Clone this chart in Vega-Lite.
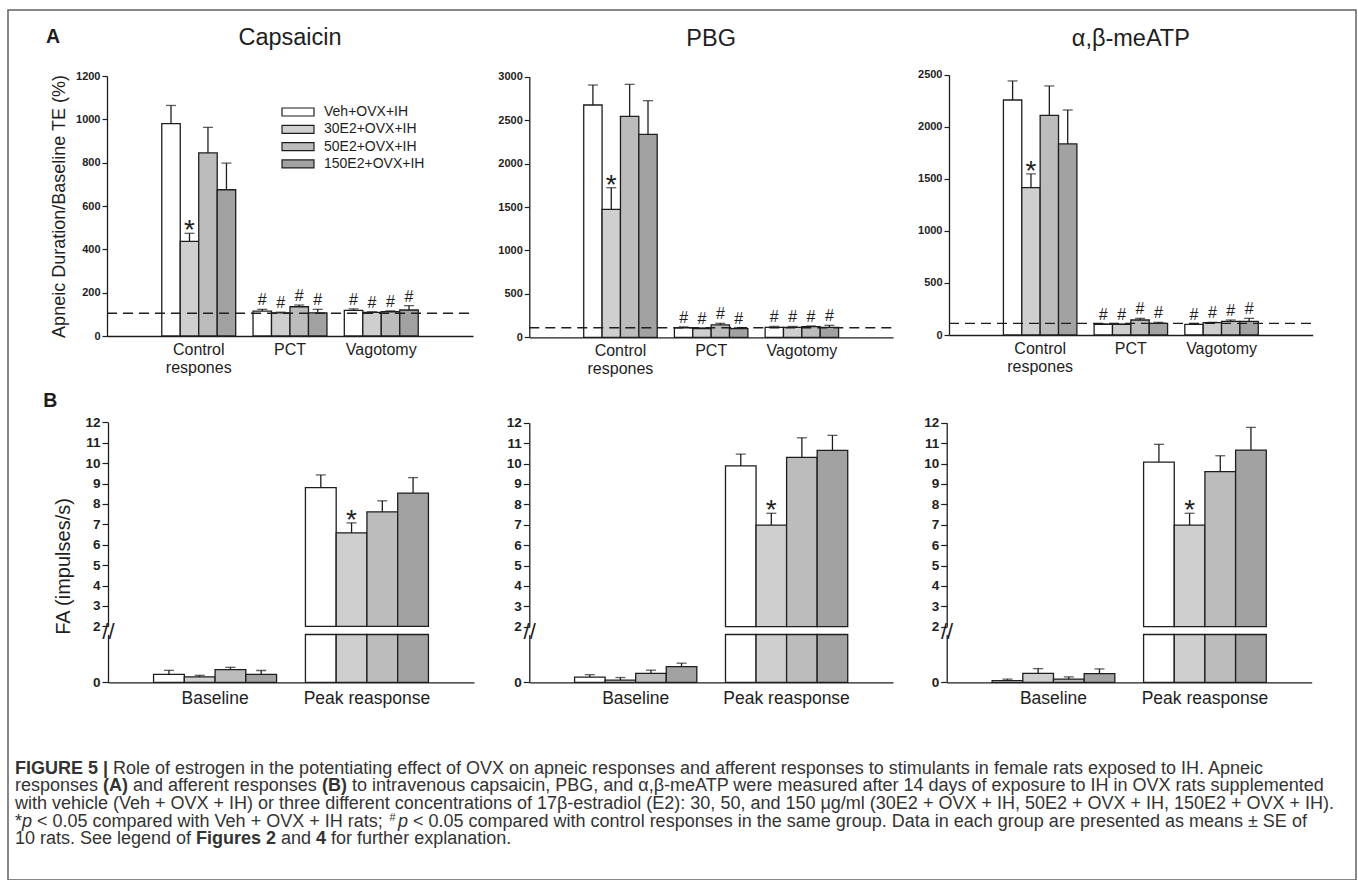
{
  "$schema": "https://vega.github.io/schema/vega-lite/v6.json",
  "width": 1348,
  "height": 870,
  "autosize": {"type": "none"},
  "padding": {"left": 8, "top": 10, "right": 2, "bottom": 0},
  "config": {
    "view": {"stroke": "#626262", "strokeWidth": 1.5},
    "font": "Liberation Sans",
    "text": {"font": "Liberation Sans", "color": "#1e1e1e"},
    "axis": {"grid": false, "domainColor": "#1e1e1e", "domainWidth": 1.3, "tickColor": "#1e1e1e", "tickWidth": 1.2, "labelColor": "#1e1e1e", "titleColor": "#1e1e1e", "labelFont": "Liberation Sans", "titleFont": "Liberation Sans", "titleFontWeight": "normal"}
  },
  "datasets": {
    "a1": [
      {"g": "Control respones", "t": "Veh+OVX+IH", "m": 980, "u": 1064, "s": ""},
      {"g": "Control respones", "t": "30E2+OVX+IH", "m": 437, "u": 474, "s": "*"},
      {"g": "Control respones", "t": "50E2+OVX+IH", "m": 845, "u": 963, "s": ""},
      {"g": "Control respones", "t": "150E2+OVX+IH", "m": 675, "u": 798, "s": ""},
      {"g": "PCT", "t": "Veh+OVX+IH", "m": 115, "u": 123, "s": "#"},
      {"g": "PCT", "t": "30E2+OVX+IH", "m": 107, "u": 110, "s": "#"},
      {"g": "PCT", "t": "50E2+OVX+IH", "m": 135, "u": 143, "s": "#"},
      {"g": "PCT", "t": "150E2+OVX+IH", "m": 107, "u": 123, "s": "#"},
      {"g": "Vagotomy", "t": "Veh+OVX+IH", "m": 118, "u": 125, "s": "#"},
      {"g": "Vagotomy", "t": "30E2+OVX+IH", "m": 109, "u": 112, "s": "#"},
      {"g": "Vagotomy", "t": "50E2+OVX+IH", "m": 112, "u": 116, "s": "#"},
      {"g": "Vagotomy", "t": "150E2+OVX+IH", "m": 120, "u": 140, "s": "#"}
    ],
    "a2": [
      {"g": "Control respones", "t": "Veh+OVX+IH", "m": 2674, "u": 2904, "s": ""},
      {"g": "Control respones", "t": "30E2+OVX+IH", "m": 1473, "u": 1722, "s": "*"},
      {"g": "Control respones", "t": "50E2+OVX+IH", "m": 2544, "u": 2912, "s": ""},
      {"g": "Control respones", "t": "150E2+OVX+IH", "m": 2337, "u": 2724, "s": ""},
      {"g": "PCT", "t": "Veh+OVX+IH", "m": 110, "u": 120, "s": "#"},
      {"g": "PCT", "t": "30E2+OVX+IH", "m": 100, "u": 110, "s": "#"},
      {"g": "PCT", "t": "50E2+OVX+IH", "m": 142, "u": 161, "s": "#"},
      {"g": "PCT", "t": "150E2+OVX+IH", "m": 101, "u": 112, "s": "#"},
      {"g": "Vagotomy", "t": "Veh+OVX+IH", "m": 115, "u": 125, "s": "#"},
      {"g": "Vagotomy", "t": "30E2+OVX+IH", "m": 115, "u": 125, "s": "#"},
      {"g": "Vagotomy", "t": "50E2+OVX+IH", "m": 123, "u": 130, "s": "#"},
      {"g": "Vagotomy", "t": "150E2+OVX+IH", "m": 115, "u": 138, "s": "#"}
    ],
    "a3": [
      {"g": "Control respones", "t": "Veh+OVX+IH", "m": 2257, "u": 2440, "s": ""},
      {"g": "Control respones", "t": "30E2+OVX+IH", "m": 1415, "u": 1547, "s": "*"},
      {"g": "Control respones", "t": "50E2+OVX+IH", "m": 2110, "u": 2392, "s": ""},
      {"g": "Control respones", "t": "150E2+OVX+IH", "m": 1835, "u": 2161, "s": ""},
      {"g": "PCT", "t": "Veh+OVX+IH", "m": 103, "u": 108, "s": "#"},
      {"g": "PCT", "t": "30E2+OVX+IH", "m": 103, "u": 106, "s": "#"},
      {"g": "PCT", "t": "50E2+OVX+IH", "m": 144, "u": 160, "s": "#"},
      {"g": "PCT", "t": "150E2+OVX+IH", "m": 112, "u": 122, "s": "#"},
      {"g": "Vagotomy", "t": "Veh+OVX+IH", "m": 103, "u": 108, "s": "#"},
      {"g": "Vagotomy", "t": "30E2+OVX+IH", "m": 118, "u": 122, "s": "#"},
      {"g": "Vagotomy", "t": "50E2+OVX+IH", "m": 131, "u": 144, "s": "#"},
      {"g": "Vagotomy", "t": "150E2+OVX+IH", "m": 131, "u": 160, "s": "#"}
    ],
    "b1": [
      {"g": "Baseline", "t": "Veh+OVX+IH", "m": 0.25, "u": 0.375, "s": ""},
      {"g": "Baseline", "t": "30E2+OVX+IH", "m": 0.17, "u": 0.22, "s": ""},
      {"g": "Baseline", "t": "50E2+OVX+IH", "m": 0.4, "u": 0.47, "s": ""},
      {"g": "Baseline", "t": "150E2+OVX+IH", "m": 0.25, "u": 0.37, "s": ""},
      {"g": "Peak reasponse", "t": "Veh+OVX+IH", "m": 8.8, "u": 9.42, "s": ""},
      {"g": "Peak reasponse", "t": "30E2+OVX+IH", "m": 6.58, "u": 7.07, "s": "*"},
      {"g": "Peak reasponse", "t": "50E2+OVX+IH", "m": 7.61, "u": 8.15, "s": ""},
      {"g": "Peak reasponse", "t": "150E2+OVX+IH", "m": 8.53, "u": 9.29, "s": ""}
    ],
    "b2": [
      {"g": "Baseline", "t": "Veh+OVX+IH", "m": 0.16, "u": 0.24, "s": ""},
      {"g": "Baseline", "t": "30E2+OVX+IH", "m": 0.07, "u": 0.15, "s": ""},
      {"g": "Baseline", "t": "50E2+OVX+IH", "m": 0.28, "u": 0.38, "s": ""},
      {"g": "Baseline", "t": "150E2+OVX+IH", "m": 0.49, "u": 0.6, "s": ""},
      {"g": "Peak reasponse", "t": "Veh+OVX+IH", "m": 9.88, "u": 10.46, "s": ""},
      {"g": "Peak reasponse", "t": "30E2+OVX+IH", "m": 6.98, "u": 7.56, "s": "*"},
      {"g": "Peak reasponse", "t": "50E2+OVX+IH", "m": 10.3, "u": 11.26, "s": ""},
      {"g": "Peak reasponse", "t": "150E2+OVX+IH", "m": 10.64, "u": 11.38, "s": ""}
    ],
    "b3": [
      {"g": "Baseline", "t": "Veh+OVX+IH", "m": 0.05, "u": 0.1, "s": ""},
      {"g": "Baseline", "t": "30E2+OVX+IH", "m": 0.28, "u": 0.43, "s": ""},
      {"g": "Baseline", "t": "50E2+OVX+IH", "m": 0.1, "u": 0.17, "s": ""},
      {"g": "Baseline", "t": "150E2+OVX+IH", "m": 0.27, "u": 0.42, "s": ""},
      {"g": "Peak reasponse", "t": "Veh+OVX+IH", "m": 10.07, "u": 10.94, "s": ""},
      {"g": "Peak reasponse", "t": "30E2+OVX+IH", "m": 6.98, "u": 7.56, "s": "*"},
      {"g": "Peak reasponse", "t": "50E2+OVX+IH", "m": 9.6, "u": 10.38, "s": ""},
      {"g": "Peak reasponse", "t": "150E2+OVX+IH", "m": 10.66, "u": 11.77, "s": ""}
    ],
    "cap": [
      {"line": 1, "part": "l1a", "text": "FIGURE 5 |"},
      {"line": 1, "part": "l1b", "text": "Role of estrogen in the potentiating effect of OVX on apneic responses and afferent responses to stimulants in female rats exposed to IH. Apneic"},
      {"line": 2, "part": "l2a", "text": "responses"},
      {"line": 2, "part": "l2b", "text": "(A)"},
      {"line": 2, "part": "l2c", "text": "and afferent responses"},
      {"line": 2, "part": "l2d", "text": "(B)"},
      {"line": 2, "part": "l2e", "text": "to intravenous capsaicin, PBG, and α,β-meATP were measured after 14 days of exposure to IH in OVX rats supplemented"},
      {"line": 3, "part": "n", "text": "with vehicle (Veh + OVX + IH) or three different concentrations of 17β-estradiol (E2): 30, 50, and 150 μg/ml (30E2 + OVX + IH, 50E2 + OVX + IH, 150E2 + OVX + IH)."},
      {"line": 4, "part": "l4a", "text": "*"},
      {"line": 4, "part": "l4b", "text": "p"},
      {"line": 4, "part": "l4c", "text": "< 0.05 compared with Veh + OVX + IH rats;"},
      {"line": 4, "part": "l4d", "text": "#"},
      {"line": 4, "part": "l4e", "text": "p"},
      {"line": 4, "part": "l4f", "text": "< 0.05 compared with control responses in the same group. Data in each group are presented as means ± SE of"},
      {"line": 5, "part": "l5a", "text": "10 rats. See legend of"},
      {"line": 5, "part": "l5b", "text": "Figures 2"},
      {"line": 5, "part": "l5c", "text": "and"},
      {"line": 5, "part": "l5d", "text": "4"},
      {"line": 5, "part": "l5e", "text": "for further explanation."}
    ]
  },
  "layer": [
    {
      "data": {"name": "a1"},
      "layer": [
        {"mark": {"type": "bar", "stroke": "#1e1e1e", "strokeWidth": 1.3},
         "encoding": {
           "x": {"field": "g", "type": "nominal", "scale": {"domain": ["Control respones", "PCT", "Vagotomy"], "range": [99, 465], "paddingInner": 0.19, "paddingOuter": 0.6},
                 "axis": {"orient": "bottom", "offset": -544, "title": null, "labelAngle": 0, "ticks": false, "tickSize": 0, "labelPadding": 5, "labelFontSize": 16, "labelLineHeight": 18, "labelExpr": "datum.label == 'Control respones' ? ['Control', 'respones'] : datum.label"}},
           "xOffset": {"field": "t", "type": "nominal", "scale": {"domain": ["Veh+OVX+IH", "30E2+OVX+IH", "50E2+OVX+IH", "150E2+OVX+IH"]}},
           "y": {"field": "m", "type": "quantitative", "scale": {"domain": [0, 1200], "range": [326, 66], "nice": false},
                 "axis": {"orient": "left", "offset": -99, "values": [0, 200, 400, 600, 800, 1000, 1200], "format": "d", "title": "Apneic Duration/Baseline TE (%)", "titleFontSize": 18, "titlePadding": 7, "labelFontSize": 11, "labelFontWeight": "bold", "tickSize": 5, "labelPadding": 2}},
           "fill": {"field": "t", "type": "nominal", "scale": {"domain": ["Veh+OVX+IH", "30E2+OVX+IH", "50E2+OVX+IH", "150E2+OVX+IH"], "range": ["#ffffff", "#cfcfcf", "#bcbcbc", "#a2a2a2"]},
                    "legend": {"orient": "none", "legendX": 273, "legendY": 94, "title": null, "symbolType": "M-1,-0.25H1V0.25H-1Z", "symbolSize": 1024, "symbolStrokeColor": "#1e1e1e", "symbolStrokeWidth": 1.2, "labelFontSize": 14, "labelFont": "Liberation Sans", "labelColor": "#1e1e1e", "rowPadding": 1.3, "labelOffset": 9, "clipHeight": 16, "padding": 0}}
         }},
        {"mark": {"type": "rule", "color": "#1e1e1e", "strokeWidth": 1.3},
         "encoding": {"x": {"field": "g", "type": "nominal"}, "xOffset": {"field": "t", "type": "nominal"}, "y": {"field": "m", "type": "quantitative"}, "y2": {"field": "u"}}},
        {"mark": {"type": "tick", "color": "#1e1e1e", "size": 10, "thickness": 1.3},
         "encoding": {"x": {"field": "g", "type": "nominal"}, "xOffset": {"field": "t", "type": "nominal"}, "y": {"field": "u", "type": "quantitative"}}},
        {"transform": [{"filter": "datum.s == '#'"}],
         "mark": {"type": "text", "fontSize": 16, "dy": -4, "baseline": "alphabetic"},
         "encoding": {"x": {"field": "g", "type": "nominal"}, "xOffset": {"field": "t", "type": "nominal"}, "y": {"field": "u", "type": "quantitative"}, "text": {"field": "s"}}},
        {"transform": [{"filter": "datum.s == '*'"}],
         "mark": {"type": "text", "fontSize": 28, "dy": 6, "baseline": "alphabetic"},
         "encoding": {"x": {"field": "g", "type": "nominal"}, "xOffset": {"field": "t", "type": "nominal"}, "y": {"field": "u", "type": "quantitative"}, "text": {"field": "s"}}},
        {"data": {"values": [{"name": "Capsaicin"}]},
         "mark": {"type": "text", "fontSize": 23.5, "baseline": "alphabetic"},
         "encoding": {"x": {"datum": "PCT", "type": "nominal"}, "y": {"datum": 1341, "type": "quantitative"}, "text": {"field": "name"}}},
        {"data": {"values": [{"name": "A"}]},
         "mark": {"type": "text", "fontSize": 19.5, "fontWeight": "bold", "align": "left", "baseline": "alphabetic", "dx": -152.7, "dy": -32.7},
         "encoding": {"x": {"datum": "Control respones", "type": "nominal"}, "y": {"datum": 1200, "type": "quantitative"}, "text": {"field": "name"}}}
      ]
    },
    {
      "data": {"name": "a2"},
      "layer": [
        {"mark": {"type": "bar", "stroke": "#1e1e1e", "strokeWidth": 1.3},
         "encoding": {
           "x": {"field": "g", "type": "nominal", "scale": {"domain": ["Control respones", "PCT", "Vagotomy"], "range": [521.3, 885], "paddingInner": 0.19, "paddingOuter": 0.6},
                 "axis": {"orient": "bottom", "offset": -542.7, "title": null, "labelAngle": 0, "ticks": false, "tickSize": 0, "labelPadding": 5, "labelFontSize": 16, "labelLineHeight": 18, "labelExpr": "datum.label == 'Control respones' ? ['Control', 'respones'] : datum.label"}},
           "xOffset": {"field": "t", "type": "nominal", "scale": {"domain": ["Veh+OVX+IH", "30E2+OVX+IH", "50E2+OVX+IH", "150E2+OVX+IH"]}},
           "y": {"field": "m", "type": "quantitative", "scale": {"domain": [0, 3000], "range": [327.3, 66.7], "nice": false},
                 "axis": {"orient": "left", "offset": -521.3, "values": [0, 500, 1000, 1500, 2000, 2500, 3000], "format": "d", "title": null, "labelFontSize": 11, "labelFontWeight": "bold", "tickSize": 5, "labelPadding": 2}},
           "fill": {"field": "t", "type": "nominal", "scale": {"domain": ["Veh+OVX+IH", "30E2+OVX+IH", "50E2+OVX+IH", "150E2+OVX+IH"], "range": ["#ffffff", "#cfcfcf", "#bcbcbc", "#a2a2a2"]}, "legend": null}
         }},
        {"mark": {"type": "rule", "color": "#1e1e1e", "strokeWidth": 1.3},
         "encoding": {"x": {"field": "g", "type": "nominal"}, "xOffset": {"field": "t", "type": "nominal"}, "y": {"field": "m", "type": "quantitative"}, "y2": {"field": "u"}}},
        {"mark": {"type": "tick", "color": "#1e1e1e", "size": 10, "thickness": 1.3},
         "encoding": {"x": {"field": "g", "type": "nominal"}, "xOffset": {"field": "t", "type": "nominal"}, "y": {"field": "u", "type": "quantitative"}}},
        {"transform": [{"filter": "datum.s == '#'"}],
         "mark": {"type": "text", "fontSize": 16, "dy": -4, "baseline": "alphabetic"},
         "encoding": {"x": {"field": "g", "type": "nominal"}, "xOffset": {"field": "t", "type": "nominal"}, "y": {"field": "u", "type": "quantitative"}, "text": {"field": "s"}}},
        {"transform": [{"filter": "datum.s == '*'"}],
         "mark": {"type": "text", "fontSize": 28, "dy": 6, "baseline": "alphabetic"},
         "encoding": {"x": {"field": "g", "type": "nominal"}, "xOffset": {"field": "t", "type": "nominal"}, "y": {"field": "u", "type": "quantitative"}, "text": {"field": "s"}}},
        {"data": {"values": [{"name": "PBG"}]},
         "mark": {"type": "text", "fontSize": 23.5, "baseline": "alphabetic"},
         "encoding": {"x": {"datum": "PCT", "type": "nominal"}, "y": {"datum": 3359, "type": "quantitative"}, "text": {"field": "name"}}}
      ]
    },
    {
      "data": {"name": "a3"},
      "layer": [
        {"mark": {"type": "bar", "stroke": "#1e1e1e", "strokeWidth": 1.3},
         "encoding": {
           "x": {"field": "g", "type": "nominal", "scale": {"domain": ["Control respones", "PCT", "Vagotomy"], "range": [941, 1304.7], "paddingInner": 0.19, "paddingOuter": 0.6},
                 "axis": {"orient": "bottom", "offset": -545, "title": null, "labelAngle": 0, "ticks": false, "tickSize": 0, "labelPadding": 5, "labelFontSize": 16, "labelLineHeight": 18, "labelExpr": "datum.label == 'Control respones' ? ['Control', 'respones'] : datum.label"}},
           "xOffset": {"field": "t", "type": "nominal", "scale": {"domain": ["Veh+OVX+IH", "30E2+OVX+IH", "50E2+OVX+IH", "150E2+OVX+IH"]}},
           "y": {"field": "m", "type": "quantitative", "scale": {"domain": [0, 2500], "range": [325, 64.7], "nice": false},
                 "axis": {"orient": "left", "offset": -941, "values": [0, 500, 1000, 1500, 2000, 2500], "format": "d", "title": null, "labelFontSize": 11, "labelFontWeight": "bold", "tickSize": 5, "labelPadding": 2}},
           "fill": {"field": "t", "type": "nominal", "scale": {"domain": ["Veh+OVX+IH", "30E2+OVX+IH", "50E2+OVX+IH", "150E2+OVX+IH"], "range": ["#ffffff", "#cfcfcf", "#bcbcbc", "#a2a2a2"]}, "legend": null}
         }},
        {"mark": {"type": "rule", "color": "#1e1e1e", "strokeWidth": 1.3},
         "encoding": {"x": {"field": "g", "type": "nominal"}, "xOffset": {"field": "t", "type": "nominal"}, "y": {"field": "m", "type": "quantitative"}, "y2": {"field": "u"}}},
        {"mark": {"type": "tick", "color": "#1e1e1e", "size": 10, "thickness": 1.3},
         "encoding": {"x": {"field": "g", "type": "nominal"}, "xOffset": {"field": "t", "type": "nominal"}, "y": {"field": "u", "type": "quantitative"}}},
        {"transform": [{"filter": "datum.s == '#'"}],
         "mark": {"type": "text", "fontSize": 16, "dy": -4, "baseline": "alphabetic"},
         "encoding": {"x": {"field": "g", "type": "nominal"}, "xOffset": {"field": "t", "type": "nominal"}, "y": {"field": "u", "type": "quantitative"}, "text": {"field": "s"}}},
        {"transform": [{"filter": "datum.s == '*'"}],
         "mark": {"type": "text", "fontSize": 28, "dy": 6, "baseline": "alphabetic"},
         "encoding": {"x": {"field": "g", "type": "nominal"}, "xOffset": {"field": "t", "type": "nominal"}, "y": {"field": "u", "type": "quantitative"}, "text": {"field": "s"}}},
        {"data": {"values": [{"name": "α,β-meATP"}]},
         "mark": {"type": "text", "fontSize": 23.5, "baseline": "alphabetic"},
         "encoding": {"x": {"datum": "PCT", "type": "nominal"}, "y": {"datum": 2780, "type": "quantitative"}, "text": {"field": "name"}}}
      ]
    },
    {
      "data": {"name": "b1"},
      "layer": [
        {"transform": [{"filter": "datum.g == 'Peak reasponse'"}],
         "mark": {"type": "bar", "stroke": "#1e1e1e", "strokeWidth": 1.3},
         "encoding": {
           "x": {"field": "g", "type": "nominal", "scale": {"domain": ["Baseline", "Peak reasponse"], "range": [100, 466], "paddingInner": 0.19, "paddingOuter": 0.3}, "axis": null},
           "xOffset": {"field": "t", "type": "nominal", "scale": {"domain": ["Veh+OVX+IH", "30E2+OVX+IH", "50E2+OVX+IH", "150E2+OVX+IH"]}},
           "y": {"field": "m", "type": "quantitative", "scale": {"domain": [2, 12], "range": [616.3, 412.3], "nice": false, "zero": false},
                 "axis": {"orient": "left", "offset": -100, "values": [2, 3, 4, 5, 6, 7, 8, 9, 10, 11, 12], "format": "d", "title": "FA (impulses/s)", "titleFontSize": 20, "titlePadding": 11, "titleY": 556, "labelFontSize": 13.5, "labelFontWeight": "bold", "tickSize": 6, "labelPadding": 2}},
           "y2": {"datum": 2},
           "fill": {"field": "t", "type": "nominal", "scale": {"domain": ["Veh+OVX+IH", "30E2+OVX+IH", "50E2+OVX+IH", "150E2+OVX+IH"], "range": ["#ffffff", "#cfcfcf", "#bcbcbc", "#a2a2a2"]}, "legend": null}
         }},
        {"transform": [{"filter": "datum.g == 'Peak reasponse'"}],
         "mark": {"type": "rule", "color": "#1e1e1e", "strokeWidth": 1.3},
         "encoding": {"x": {"field": "g", "type": "nominal", "axis": null}, "xOffset": {"field": "t", "type": "nominal"}, "y": {"field": "m", "type": "quantitative"}, "y2": {"field": "u"}}},
        {"transform": [{"filter": "datum.g == 'Peak reasponse'"}],
         "mark": {"type": "tick", "color": "#1e1e1e", "size": 10, "thickness": 1.3},
         "encoding": {"x": {"field": "g", "type": "nominal", "axis": null}, "xOffset": {"field": "t", "type": "nominal"}, "y": {"field": "u", "type": "quantitative"}}},
        {"transform": [{"filter": "datum.s == '*'"}],
         "mark": {"type": "text", "fontSize": 28, "dy": 6, "baseline": "alphabetic"},
         "encoding": {"x": {"field": "g", "type": "nominal", "axis": null}, "xOffset": {"field": "t", "type": "nominal"}, "y": {"field": "u", "type": "quantitative"}, "text": {"field": "s"}}},
        {"data": {"values": [{"name": "B"}]},
         "mark": {"type": "text", "fontSize": 19.5, "fontWeight": "bold", "align": "left", "baseline": "alphabetic", "dx": -171.8, "dy": -15},
         "encoding": {"x": {"datum": "Baseline", "type": "nominal", "axis": null}, "y": {"datum": 12, "type": "quantitative"}, "text": {"field": "name"}}}
      ]
    },
    {
      "data": {"name": "b1"},
      "layer": [
        {"mark": {"type": "bar", "stroke": "#1e1e1e", "strokeWidth": 1.3},
         "encoding": {
           "x": {"field": "g", "type": "nominal", "scale": {"domain": ["Baseline", "Peak reasponse"], "range": [100, 466], "paddingInner": 0.19, "paddingOuter": 0.3},
                 "axis": {"orient": "bottom", "offset": -197.7, "title": null, "labelAngle": 0, "ticks": false, "tickSize": 0, "labelPadding": 7, "labelFontSize": 17.5}},
           "xOffset": {"field": "t", "type": "nominal", "scale": {"domain": ["Veh+OVX+IH", "30E2+OVX+IH", "50E2+OVX+IH", "150E2+OVX+IH"]}},
           "y": {"field": "m", "type": "quantitative", "scale": {"domain": [0, 1.5], "range": [672.3, 624.5], "nice": false, "clamp": true},
                 "axis": {"orient": "left", "offset": -100, "values": [0, 1.5], "title": null, "labelExpr": "datum.value == 0 ? '0' : '//'", "labelFontSize": {"condition": {"test": "datum.value == 0", "value": 13.5}, "value": 22}, "labelFontWeight": {"condition": {"test": "datum.value == 0", "value": "bold"}, "value": "normal"}, "labelPadding": {"condition": {"test": "datum.value == 0", "value": 2}, "value": -12}, "labelOffset": {"condition": {"test": "datum.value == 0", "value": 0}, "value": -3}, "tickOpacity": {"condition": {"test": "datum.value == 0", "value": 1}, "value": 0}, "tickSize": 6}},
           "fill": {"field": "t", "type": "nominal", "scale": {"domain": ["Veh+OVX+IH", "30E2+OVX+IH", "50E2+OVX+IH", "150E2+OVX+IH"], "range": ["#ffffff", "#cfcfcf", "#bcbcbc", "#a2a2a2"]}, "legend": null}
         }},
        {"transform": [{"filter": "datum.g == 'Baseline'"}],
         "mark": {"type": "rule", "color": "#1e1e1e", "strokeWidth": 1.3},
         "encoding": {"x": {"field": "g", "type": "nominal"}, "xOffset": {"field": "t", "type": "nominal"}, "y": {"field": "m", "type": "quantitative"}, "y2": {"field": "u"}}},
        {"transform": [{"filter": "datum.g == 'Baseline'"}],
         "mark": {"type": "tick", "color": "#1e1e1e", "size": 10, "thickness": 1.3},
         "encoding": {"x": {"field": "g", "type": "nominal"}, "xOffset": {"field": "t", "type": "nominal"}, "y": {"field": "u", "type": "quantitative"}}}
      ]
    },
    {
      "data": {"name": "b2"},
      "layer": [
        {"transform": [{"filter": "datum.g == 'Peak reasponse'"}],
         "mark": {"type": "bar", "stroke": "#1e1e1e", "strokeWidth": 1.3},
         "encoding": {
           "x": {"field": "g", "type": "nominal", "scale": {"domain": ["Baseline", "Peak reasponse"], "range": [521.3, 885], "paddingInner": 0.19, "paddingOuter": 0.3}, "axis": null},
           "xOffset": {"field": "t", "type": "nominal", "scale": {"domain": ["Veh+OVX+IH", "30E2+OVX+IH", "50E2+OVX+IH", "150E2+OVX+IH"]}},
           "y": {"field": "m", "type": "quantitative", "scale": {"domain": [2, 12], "range": [616.7, 412.7], "nice": false, "zero": false},
                 "axis": {"orient": "left", "offset": -521.3, "values": [2, 3, 4, 5, 6, 7, 8, 9, 10, 11, 12], "format": "d", "title": null, "labelFontSize": 13.5, "labelFontWeight": "bold", "tickSize": 6, "labelPadding": 2}},
           "y2": {"datum": 2},
           "fill": {"field": "t", "type": "nominal", "scale": {"domain": ["Veh+OVX+IH", "30E2+OVX+IH", "50E2+OVX+IH", "150E2+OVX+IH"], "range": ["#ffffff", "#cfcfcf", "#bcbcbc", "#a2a2a2"]}, "legend": null}
         }},
        {"transform": [{"filter": "datum.g == 'Peak reasponse'"}],
         "mark": {"type": "rule", "color": "#1e1e1e", "strokeWidth": 1.3},
         "encoding": {"x": {"field": "g", "type": "nominal", "axis": null}, "xOffset": {"field": "t", "type": "nominal"}, "y": {"field": "m", "type": "quantitative"}, "y2": {"field": "u"}}},
        {"transform": [{"filter": "datum.g == 'Peak reasponse'"}],
         "mark": {"type": "tick", "color": "#1e1e1e", "size": 10, "thickness": 1.3},
         "encoding": {"x": {"field": "g", "type": "nominal", "axis": null}, "xOffset": {"field": "t", "type": "nominal"}, "y": {"field": "u", "type": "quantitative"}}},
        {"transform": [{"filter": "datum.s == '*'"}],
         "mark": {"type": "text", "fontSize": 28, "dy": 6, "baseline": "alphabetic"},
         "encoding": {"x": {"field": "g", "type": "nominal", "axis": null}, "xOffset": {"field": "t", "type": "nominal"}, "y": {"field": "u", "type": "quantitative"}, "text": {"field": "s"}}}
      ]
    },
    {
      "data": {"name": "b2"},
      "layer": [
        {"mark": {"type": "bar", "stroke": "#1e1e1e", "strokeWidth": 1.3},
         "encoding": {
           "x": {"field": "g", "type": "nominal", "scale": {"domain": ["Baseline", "Peak reasponse"], "range": [521.3, 885], "paddingInner": 0.19, "paddingOuter": 0.3},
                 "axis": {"orient": "bottom", "offset": -197.7, "title": null, "labelAngle": 0, "ticks": false, "tickSize": 0, "labelPadding": 7, "labelFontSize": 17.5}},
           "xOffset": {"field": "t", "type": "nominal", "scale": {"domain": ["Veh+OVX+IH", "30E2+OVX+IH", "50E2+OVX+IH", "150E2+OVX+IH"]}},
           "y": {"field": "m", "type": "quantitative", "scale": {"domain": [0, 1.5], "range": [672.3, 624.5], "nice": false, "clamp": true},
                 "axis": {"orient": "left", "offset": -521.3, "values": [0, 1.5], "title": null, "labelExpr": "datum.value == 0 ? '0' : '//'", "labelFontSize": {"condition": {"test": "datum.value == 0", "value": 13.5}, "value": 22}, "labelFontWeight": {"condition": {"test": "datum.value == 0", "value": "bold"}, "value": "normal"}, "labelPadding": {"condition": {"test": "datum.value == 0", "value": 2}, "value": -12}, "labelOffset": {"condition": {"test": "datum.value == 0", "value": 0}, "value": -3}, "tickOpacity": {"condition": {"test": "datum.value == 0", "value": 1}, "value": 0}, "tickSize": 6}},
           "fill": {"field": "t", "type": "nominal", "scale": {"domain": ["Veh+OVX+IH", "30E2+OVX+IH", "50E2+OVX+IH", "150E2+OVX+IH"], "range": ["#ffffff", "#cfcfcf", "#bcbcbc", "#a2a2a2"]}, "legend": null}
         }},
        {"transform": [{"filter": "datum.g == 'Baseline'"}],
         "mark": {"type": "rule", "color": "#1e1e1e", "strokeWidth": 1.3},
         "encoding": {"x": {"field": "g", "type": "nominal"}, "xOffset": {"field": "t", "type": "nominal"}, "y": {"field": "m", "type": "quantitative"}, "y2": {"field": "u"}}},
        {"transform": [{"filter": "datum.g == 'Baseline'"}],
         "mark": {"type": "tick", "color": "#1e1e1e", "size": 10, "thickness": 1.3},
         "encoding": {"x": {"field": "g", "type": "nominal"}, "xOffset": {"field": "t", "type": "nominal"}, "y": {"field": "u", "type": "quantitative"}}}
      ]
    },
    {
      "data": {"name": "b3"},
      "layer": [
        {"transform": [{"filter": "datum.g == 'Peak reasponse'"}],
         "mark": {"type": "bar", "stroke": "#1e1e1e", "strokeWidth": 1.3},
         "encoding": {
           "x": {"field": "g", "type": "nominal", "scale": {"domain": ["Baseline", "Peak reasponse"], "range": [938.7, 1303.7], "paddingInner": 0.19, "paddingOuter": 0.3}, "axis": null},
           "xOffset": {"field": "t", "type": "nominal", "scale": {"domain": ["Veh+OVX+IH", "30E2+OVX+IH", "50E2+OVX+IH", "150E2+OVX+IH"]}},
           "y": {"field": "m", "type": "quantitative", "scale": {"domain": [2, 12], "range": [616.7, 412.7], "nice": false, "zero": false},
                 "axis": {"orient": "left", "offset": -938.7, "values": [2, 3, 4, 5, 6, 7, 8, 9, 10, 11, 12], "format": "d", "title": null, "labelFontSize": 13.5, "labelFontWeight": "bold", "tickSize": 6, "labelPadding": 2}},
           "y2": {"datum": 2},
           "fill": {"field": "t", "type": "nominal", "scale": {"domain": ["Veh+OVX+IH", "30E2+OVX+IH", "50E2+OVX+IH", "150E2+OVX+IH"], "range": ["#ffffff", "#cfcfcf", "#bcbcbc", "#a2a2a2"]}, "legend": null}
         }},
        {"transform": [{"filter": "datum.g == 'Peak reasponse'"}],
         "mark": {"type": "rule", "color": "#1e1e1e", "strokeWidth": 1.3},
         "encoding": {"x": {"field": "g", "type": "nominal", "axis": null}, "xOffset": {"field": "t", "type": "nominal"}, "y": {"field": "m", "type": "quantitative"}, "y2": {"field": "u"}}},
        {"transform": [{"filter": "datum.g == 'Peak reasponse'"}],
         "mark": {"type": "tick", "color": "#1e1e1e", "size": 10, "thickness": 1.3},
         "encoding": {"x": {"field": "g", "type": "nominal", "axis": null}, "xOffset": {"field": "t", "type": "nominal"}, "y": {"field": "u", "type": "quantitative"}}},
        {"transform": [{"filter": "datum.s == '*'"}],
         "mark": {"type": "text", "fontSize": 28, "dy": 6, "baseline": "alphabetic"},
         "encoding": {"x": {"field": "g", "type": "nominal", "axis": null}, "xOffset": {"field": "t", "type": "nominal"}, "y": {"field": "u", "type": "quantitative"}, "text": {"field": "s"}}}
      ]
    },
    {
      "data": {"name": "b3"},
      "layer": [
        {"mark": {"type": "bar", "stroke": "#1e1e1e", "strokeWidth": 1.3},
         "encoding": {
           "x": {"field": "g", "type": "nominal", "scale": {"domain": ["Baseline", "Peak reasponse"], "range": [938.7, 1303.7], "paddingInner": 0.19, "paddingOuter": 0.3},
                 "axis": {"orient": "bottom", "offset": -197.7, "title": null, "labelAngle": 0, "ticks": false, "tickSize": 0, "labelPadding": 7, "labelFontSize": 17.5}},
           "xOffset": {"field": "t", "type": "nominal", "scale": {"domain": ["Veh+OVX+IH", "30E2+OVX+IH", "50E2+OVX+IH", "150E2+OVX+IH"]}},
           "y": {"field": "m", "type": "quantitative", "scale": {"domain": [0, 1.5], "range": [672.3, 624.5], "nice": false, "clamp": true},
                 "axis": {"orient": "left", "offset": -938.7, "values": [0, 1.5], "title": null, "labelExpr": "datum.value == 0 ? '0' : '//'", "labelFontSize": {"condition": {"test": "datum.value == 0", "value": 13.5}, "value": 22}, "labelFontWeight": {"condition": {"test": "datum.value == 0", "value": "bold"}, "value": "normal"}, "labelPadding": {"condition": {"test": "datum.value == 0", "value": 2}, "value": -12}, "labelOffset": {"condition": {"test": "datum.value == 0", "value": 0}, "value": -3}, "tickOpacity": {"condition": {"test": "datum.value == 0", "value": 1}, "value": 0}, "tickSize": 6}},
           "fill": {"field": "t", "type": "nominal", "scale": {"domain": ["Veh+OVX+IH", "30E2+OVX+IH", "50E2+OVX+IH", "150E2+OVX+IH"], "range": ["#ffffff", "#cfcfcf", "#bcbcbc", "#a2a2a2"]}, "legend": null}
         }},
        {"transform": [{"filter": "datum.g == 'Baseline'"}],
         "mark": {"type": "rule", "color": "#1e1e1e", "strokeWidth": 1.3},
         "encoding": {"x": {"field": "g", "type": "nominal"}, "xOffset": {"field": "t", "type": "nominal"}, "y": {"field": "m", "type": "quantitative"}, "y2": {"field": "u"}}},
        {"transform": [{"filter": "datum.g == 'Baseline'"}],
         "mark": {"type": "tick", "color": "#1e1e1e", "size": 10, "thickness": 1.3},
         "encoding": {"x": {"field": "g", "type": "nominal"}, "xOffset": {"field": "t", "type": "nominal"}, "y": {"field": "u", "type": "quantitative"}}}
      ]
    },
    {
      "data": {"values": [{"ref": 105}]},
      "mark": {"type": "rule", "strokeDash": [10, 6], "strokeWidth": 1.3, "color": "#1e1e1e"},
      "encoding": {
        "x": {"datum": 0, "type": "quantitative", "scale": {"domain": [0, 1], "range": [99, 465], "nice": false}, "axis": null},
        "x2": {"datum": 1},
        "y": {"field": "ref", "type": "quantitative", "scale": {"domain": [0, 1200], "range": [326, 66], "nice": false}, "axis": null}
      }
    },
    {
      "data": {"values": [{"ref": 110}]},
      "mark": {"type": "rule", "strokeDash": [10, 6], "strokeWidth": 1.3, "color": "#1e1e1e"},
      "encoding": {
        "x": {"datum": 0, "type": "quantitative", "scale": {"domain": [0, 1], "range": [521.3, 885], "nice": false}, "axis": null},
        "x2": {"datum": 1},
        "y": {"field": "ref", "type": "quantitative", "scale": {"domain": [0, 3000], "range": [327.3, 66.7], "nice": false}, "axis": null}
      }
    },
    {
      "data": {"values": [{"ref": 112}]},
      "mark": {"type": "rule", "strokeDash": [10, 6], "strokeWidth": 1.3, "color": "#1e1e1e"},
      "encoding": {
        "x": {"datum": 0, "type": "quantitative", "scale": {"domain": [0, 1], "range": [941, 1304.7], "nice": false}, "axis": null},
        "x2": {"datum": 1},
        "y": {"field": "ref", "type": "quantitative", "scale": {"domain": [0, 2500], "range": [325, 64.7], "nice": false}, "axis": null}
      }
    },
    {
      "data": {"name": "cap"},
      "encoding": {
        "x": {"datum": 0, "type": "quantitative", "scale": {"domain": [0, 1], "range": [7, 1340]}, "axis": null},
        "y": {"field": "line", "type": "ordinal", "scale": {"type": "point", "domain": [1, 2, 3, 4, 5], "range": [755, 843]}, "axis": null},
        "text": {"field": "text"}
      },
      "layer": [
        {"transform": [{"filter": "datum.part == 'l1a'"}], "mark": {"type": "text", "align": "left", "baseline": "alphabetic", "fontSize": 18, "fontWeight": "bold", "color": "#333333"}},
        {"transform": [{"filter": "datum.part == 'l1b'"}], "mark": {"type": "text", "align": "left", "baseline": "alphabetic", "fontSize": 18, "dx": 98, "color": "#333333"}},
        {"transform": [{"filter": "datum.part == 'l2a'"}], "mark": {"type": "text", "align": "left", "baseline": "alphabetic", "fontSize": 18, "color": "#333333"}},
        {"transform": [{"filter": "datum.part == 'l2b'"}], "mark": {"type": "text", "align": "left", "baseline": "alphabetic", "fontSize": 18, "fontWeight": "bold", "dx": 88, "color": "#333333"}},
        {"transform": [{"filter": "datum.part == 'l2c'"}], "mark": {"type": "text", "align": "left", "baseline": "alphabetic", "fontSize": 18, "dx": 118, "color": "#333333"}},
        {"transform": [{"filter": "datum.part == 'l2d'"}], "mark": {"type": "text", "align": "left", "baseline": "alphabetic", "fontSize": 18, "fontWeight": "bold", "dx": 307.1, "color": "#333333"}},
        {"transform": [{"filter": "datum.part == 'l2e'"}], "mark": {"type": "text", "align": "left", "baseline": "alphabetic", "fontSize": 18, "dx": 337.1, "color": "#333333"}},
        {"transform": [{"filter": "datum.part == 'n'"}], "mark": {"type": "text", "align": "left", "baseline": "alphabetic", "fontSize": 18, "color": "#333333"}},
        {"transform": [{"filter": "datum.part == 'l4a'"}], "mark": {"type": "text", "align": "left", "baseline": "alphabetic", "fontSize": 18, "color": "#333333"}},
        {"transform": [{"filter": "datum.part == 'l4b'"}], "mark": {"type": "text", "align": "left", "baseline": "alphabetic", "fontSize": 18, "fontStyle": "italic", "dx": 7, "color": "#333333"}},
        {"transform": [{"filter": "datum.part == 'l4c'"}], "mark": {"type": "text", "align": "left", "baseline": "alphabetic", "fontSize": 18, "dx": 22, "color": "#333333"}},
        {"transform": [{"filter": "datum.part == 'l4d'"}], "mark": {"type": "text", "align": "left", "baseline": "alphabetic", "fontSize": 11, "dx": 374.5, "dy": -6, "color": "#333333"}},
        {"transform": [{"filter": "datum.part == 'l4e'"}], "mark": {"type": "text", "align": "left", "baseline": "alphabetic", "fontSize": 18, "fontStyle": "italic", "dx": 383, "color": "#333333"}},
        {"transform": [{"filter": "datum.part == 'l4f'"}], "mark": {"type": "text", "align": "left", "baseline": "alphabetic", "fontSize": 18, "dx": 398, "color": "#333333"}},
        {"transform": [{"filter": "datum.part == 'l5a'"}], "mark": {"type": "text", "align": "left", "baseline": "alphabetic", "fontSize": 18, "color": "#333333"}},
        {"transform": [{"filter": "datum.part == 'l5b'"}], "mark": {"type": "text", "align": "left", "baseline": "alphabetic", "fontSize": 18, "fontWeight": "bold", "dx": 181.1, "color": "#333333"}},
        {"transform": [{"filter": "datum.part == 'l5c'"}], "mark": {"type": "text", "align": "left", "baseline": "alphabetic", "fontSize": 18, "dx": 266.1, "color": "#333333"}},
        {"transform": [{"filter": "datum.part == 'l5d'"}], "mark": {"type": "text", "align": "left", "baseline": "alphabetic", "fontSize": 18, "fontWeight": "bold", "dx": 301.1, "color": "#333333"}},
        {"transform": [{"filter": "datum.part == 'l5e'"}], "mark": {"type": "text", "align": "left", "baseline": "alphabetic", "fontSize": 18, "dx": 316.1, "color": "#333333"}}
      ]
    }
  ],
  "resolve": {
    "scale": {"x": "independent", "y": "independent", "xOffset": "independent"},
    "axis": {"x": "independent", "y": "independent"}
  }
}
